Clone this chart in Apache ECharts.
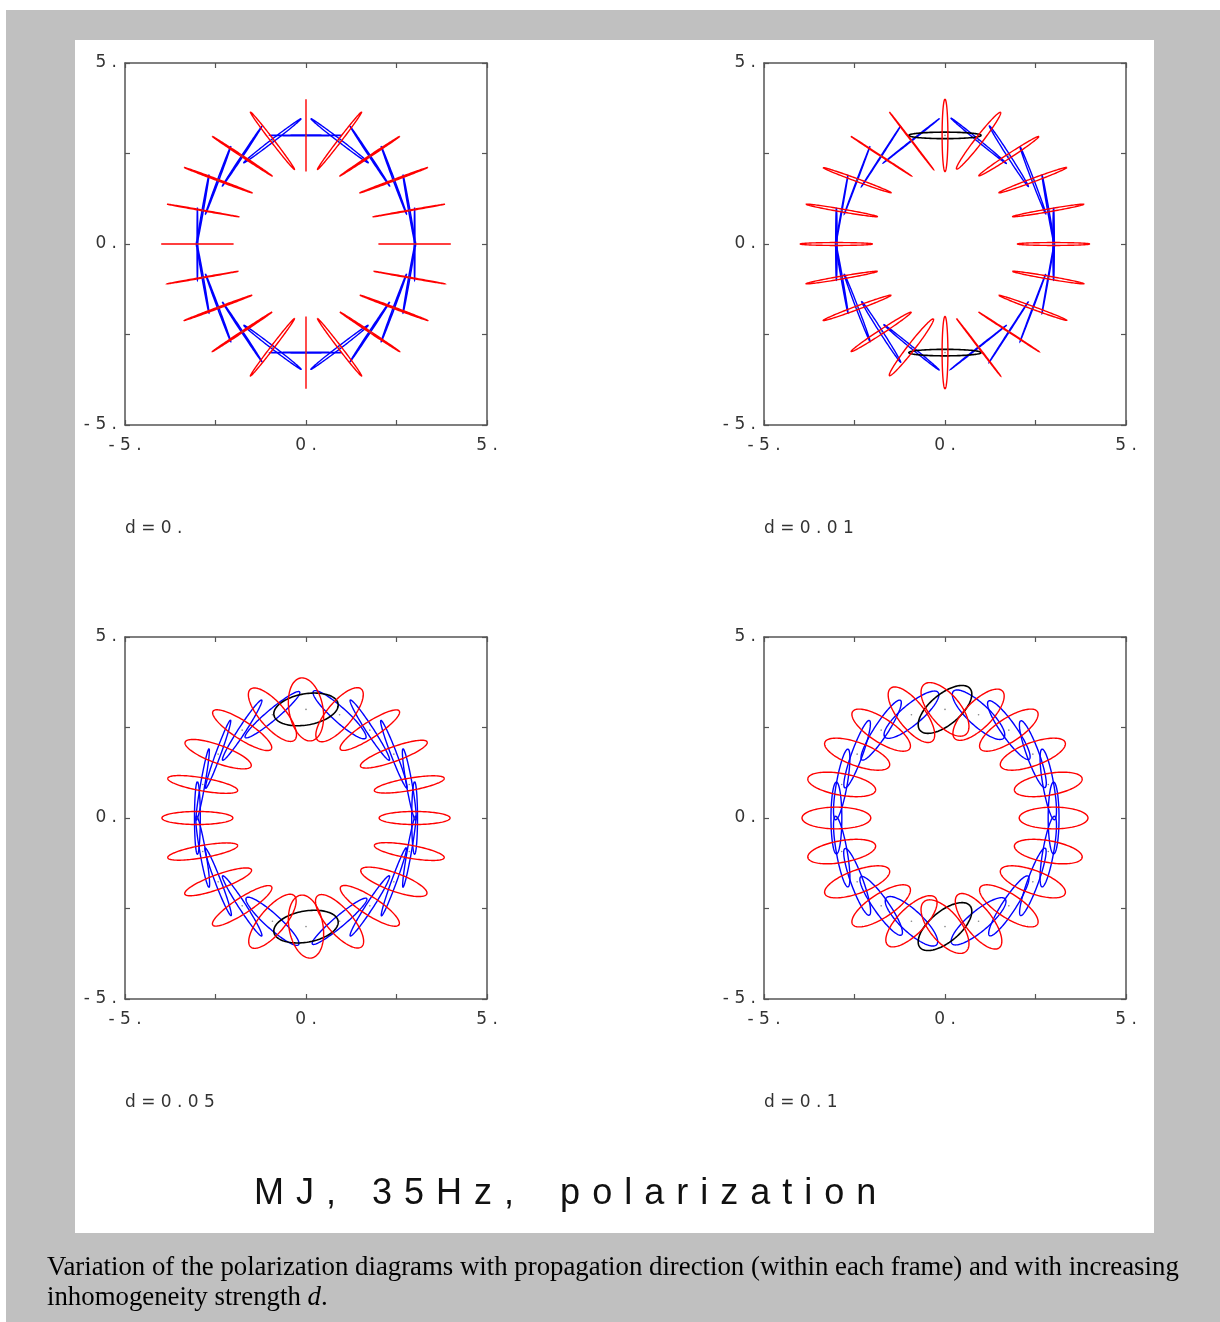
<!DOCTYPE html>
<html>
<head>
<meta charset="utf-8">
<script src="https://cdn.jsdelivr.net/npm/echarts@6/dist/echarts.min.js"></script>
<style>
  html, body { margin: 0; padding: 0; background: #ffffff; }
  #chart { width: 1220px; height: 1322px; }
</style>
</head>
<body>
<div id="chart"></div>
<script>
// Propagation directions in degrees. Each polarization ellipse belongs to a
// direction axis, so it is drawn at both ends of that axis (theta and theta+180).
const directions = [0, 18, 36, 54, 72, 90, 108, 126, 144, 162];

const panelLabels = ['d = 0 .', 'd = 0 . 0 1', 'd = 0 . 0 5', 'd = 0 . 1'];
const tickLabels = { '-5': '- 5 .', '0': '0 .', '5': '5 .' };
const titleText = 'M\u2004J\u2004,\u2004\u2004\u20043\u20045\u2004H\u2004z\u2004,\u2004\u2004\u2004 p\u2004o\u2004l\u2004a\u2004r\u2004i\u2004z\u2004a\u2004t\u2004i\u2004o\u2004n';
const captionLine1 = 'Variation of the polarization diagrams with propagation direction (within each frame) and with increasing';
const captionLine2 = 'inhomogeneity strength {i|d}.';

// Semi-major axis, semi-minor axis and tilt (degrees) of each mode's ellipse.
// d = 0
const d0RedMajor  = [1.00, 1.00, 1.00, 0.99, 1.00, 1.00, 1.00, 0.99, 1.00, 1.00];
const d0RedMinor  = [0.00, 0.01, 0.02, 0.02, 0.045, 0.00, 0.045, 0.02, 0.02, 0.01];
const d0RedTilt   = [0, 10, 20.5, 33.5, 52.5, 90, 127.5, 146.5, 159.5, 170];
const d0BlueMajor = [1.00, 1.00, 1.00, 0.99, 1.00, 0.99, 1.00, 0.99, 1.00, 1.00];
const d0BlueMinor = [0.01, 0.02, 0.02, 0.02, 0.04, 0.01, 0.04, 0.02, 0.02, 0.02];
const d0BlueTilt  = [90, 100, 110.5, 123.5, 142.5, 0, 37.5, 56.5, 69.5, 80];

// d = 0.01
const d1RedMajor  = [1.00, 1.00, 1.00, 0.99, 0.99, 1.00, 1.00, 1.00, 1.00, 1.00];
const d1RedMinor  = [0.04, 0.04, 0.05, 0.06, 0.10, 0.08, 0.01, 0.01, 0.04, 0.04];
const d1RedTilt   = [0, 9.8, 20.4, 33.2, 52.2, 90, 127.5, 146.8, 159.8, 170.2];
const d1BlueMajor = [1.00, 1.00, 1.00, 1.00, 0.99, 1.00, 0.99, 1.00, 1.00, 1.00];
const d1BlueMinor = [0.02, 0.02, 0.03, 0.04, 0.03, 0.09, 0.01, 0.01, 0.01, 0.01];
const d1BlueTilt  = [90, 100, 111, 122.7, 140.7, 0, 38.3, 57.1, 69.2, 80];

// d = 0.05
const d5RedMajor  = [0.98, 0.98, 0.98, 0.97, 0.93, 0.88, 0.93, 0.96, 0.97, 0.98];
const d5RedMinor  = [0.18, 0.17, 0.20, 0.22, 0.35, 0.47, 0.35, 0.25, 0.25, 0.18];
const d5RedTilt   = [0, 10, 20, 33, 50, 100, 131, 147, 160, 170];
const d5BlueMajor = [1.00, 1.00, 1.00, 0.99, 0.97, 0.90, 0.98, 0.99, 1.00, 1.00];
const d5BlueMinor = [0.08, 0.08, 0.08, 0.10, 0.20, 0.43, 0.15, 0.10, 0.07, 0.06];
const d5BlueTilt  = [90, 100, 111, 123, 138, 10, 40, 57, 70, 80];

// d = 0.1
const d10RedMajor  = [0.95, 0.95, 0.95, 0.94, 0.93, 0.90, 0.93, 0.94, 0.95, 0.95];
const d10RedMinor  = [0.30, 0.30, 0.32, 0.33, 0.37, 0.42, 0.37, 0.33, 0.32, 0.30];
const d10RedTilt   = [0, 10, 20, 33, 45, 130, 128, 147, 160, 170];
const d10BlueMajor = [0.99, 0.99, 0.98, 0.98, 0.95, 0.90, 0.96, 0.98, 0.99, 0.99];
const d10BlueMinor = [0.15, 0.15, 0.17, 0.21, 0.30, 0.42, 0.28, 0.19, 0.15, 0.15];
const d10BlueTilt  = [90, 100, 110, 125, 137, 40, 40, 57, 70, 80];

const RING = 3;            // radius of the ring the ellipses are centred on
const RED = '#ff0000', BLUE = '#0000ff', BLACK = '#000000';

const panels = [
  { label: panelLabels[0], red: [d0RedMajor, d0RedMinor, d0RedTilt],   blue: [d0BlueMajor, d0BlueMinor, d0BlueTilt],   axisColor: BLUE,  left: 125, top: 63 },
  { label: panelLabels[1], red: [d1RedMajor, d1RedMinor, d1RedTilt],   blue: [d1BlueMajor, d1BlueMinor, d1BlueTilt],   axisColor: BLACK, left: 764, top: 63 },
  { label: panelLabels[2], red: [d5RedMajor, d5RedMinor, d5RedTilt],   blue: [d5BlueMajor, d5BlueMinor, d5BlueTilt],   axisColor: BLACK, left: 125, top: 637 },
  { label: panelLabels[3], red: [d10RedMajor, d10RedMinor, d10RedTilt], blue: [d10BlueMajor, d10BlueMinor, d10BlueTilt], axisColor: BLACK, left: 764, top: 637 }
];
const SIZE = 362;

function ellipseData(params, pick) {
  const [major, minor, tilt] = params;
  const out = [];
  directions.forEach((deg, i) => {
    if (!pick(deg)) return;
    [0, 180].forEach(side => {
      const r = (deg + side) * Math.PI / 180;
      out.push([RING * Math.cos(r), RING * Math.sin(r), major[i], minor[i], tilt[i]]);
    });
  });
  return out;
}

function centreData() {
  const out = [];
  directions.forEach(deg => {
    [0, 180].forEach(side => {
      const r = (deg + side) * Math.PI / 180;
      out.push([RING * Math.cos(r), RING * Math.sin(r)]);
    });
  });
  return out;
}

function ellipseRenderer(color, width) {
  return function (params, api) {
    const cx = api.value(0), cy = api.value(1);
    const a = api.value(2), b = api.value(3);
    const t = api.value(4) * Math.PI / 180;
    const pts = [];
    const n = 120;
    for (let k = 0; k <= n; k++) {
      const s = k / n * 2 * Math.PI;
      const x = cx + a * Math.cos(s) * Math.cos(t) - b * Math.sin(s) * Math.sin(t);
      const y = cy + a * Math.cos(s) * Math.sin(t) + b * Math.sin(s) * Math.cos(t);
      pts.push(api.coord([x, y]));
    }
    return {
      type: 'polyline',
      shape: { points: pts },
      style: { fill: null, stroke: color, lineWidth: width }
    };
  };
}

const grids = [], xAxes = [], yAxes = [], series = [], graphics = [];
const axisBase = {
  type: 'value', min: -5, max: 5, interval: 2.5,
  splitLine: { show: false },
  axisLine: { onZero: false, lineStyle: { color: '#555555', width: 1.5 } },
  axisTick: { inside: true, length: 5, lineStyle: { color: '#555555', width: 1.2 } }
};
const labelStyle = {
  fontFamily: 'DejaVu Sans', fontSize: 17, color: '#333333',
  formatter: v => tickLabels[String(v)] || ''
};

panels.forEach((p, g) => {
  grids.push({ left: p.left, top: p.top, width: SIZE, height: SIZE, show: false });
  xAxes.push(Object.assign({}, axisBase, { gridIndex: g, position: 'bottom',
    axisLabel: Object.assign({ margin: 12, showMinLabel: true, showMaxLabel: true }, labelStyle) }));
  xAxes.push(Object.assign({}, axisBase, { gridIndex: g, position: 'top', axisLabel: { show: false } }));
  yAxes.push(Object.assign({}, axisBase, { gridIndex: g, position: 'left',
    axisLabel: Object.assign({ margin: 8, showMinLabel: true, showMaxLabel: true }, labelStyle) }));
  yAxes.push(Object.assign({}, axisBase, { gridIndex: g, position: 'right', axisLabel: { show: false } }));

  const xi = 2 * g, yi = 2 * g;
  const separate = p.axisColor !== BLUE;
  series.push({
    type: 'custom', xAxisIndex: xi, yAxisIndex: yi, z: 2,
    renderItem: ellipseRenderer(BLUE, 1.4),
    encode: { x: 0, y: 1 },
    data: ellipseData(p.blue, deg => !(separate && deg === 90)),
    silent: true
  });
  if (separate) {
    series.push({
      type: 'custom', xAxisIndex: xi, yAxisIndex: yi, z: 3,
      renderItem: ellipseRenderer(BLACK, 1.6),
      encode: { x: 0, y: 1 },
      data: ellipseData(p.blue, deg => deg === 90),
      silent: true
    });
  }
  series.push({
    type: 'custom', xAxisIndex: xi, yAxisIndex: yi, z: 4,
    renderItem: ellipseRenderer(RED, 1.4),
    encode: { x: 0, y: 1 },
    data: ellipseData(p.red, () => true),
    silent: true
  });
  series.push({
    type: 'scatter', xAxisIndex: xi, yAxisIndex: yi, z: 5,
    symbolSize: 1.6, itemStyle: { color: '#666666' },
    data: centreData(), silent: true
  });

  graphics.push({
    type: 'text', x: p.left, y: p.top + SIZE + 104, z: 10,
    style: { text: p.label, font: '17px "DejaVu Sans"', fill: '#333333',
             textAlign: 'left', textVerticalAlign: 'middle', align: 'left', verticalAlign: 'middle' }
  });
});

// page backdrop, white figure area, title and caption
graphics.unshift(
  { type: 'rect', z: -20, silent: true, shape: { x: 6, y: 10, width: 1214, height: 1312 }, style: { fill: '#c0c0c0' } },
  { type: 'rect', z: -19, silent: true, shape: { x: 75, y: 40, width: 1079, height: 1193 }, style: { fill: '#ffffff' } }
);
graphics.push(
  { type: 'text', x: 254, y: 1194, z: 10,
    style: { text: titleText, font: '36px "Liberation Sans"', fill: '#111111',
             textAlign: 'left', textVerticalAlign: 'middle', align: 'left', verticalAlign: 'middle' } },
  { type: 'text', x: 47, y: 1268, z: 10,
    style: { text: captionLine1, font: '26.8px "Liberation Serif"', fill: '#000000',
             textAlign: 'left', textVerticalAlign: 'middle', align: 'left', verticalAlign: 'middle' } },
  { type: 'text', x: 47, y: 1298, z: 10,
    style: { text: captionLine2, font: '26.8px "Liberation Serif"', fill: '#000000',
             textAlign: 'left', textVerticalAlign: 'middle', align: 'left', verticalAlign: 'middle',
             rich: { i: { fontStyle: 'italic', fontFamily: 'Liberation Serif', fontSize: 26.8 } } } }
);

const chart = echarts.init(document.getElementById('chart'), null, { renderer: 'canvas' });
chart.setOption({
  animation: false,
  backgroundColor: '#ffffff',
  grid: grids,
  xAxis: xAxes,
  yAxis: yAxes,
  series: series,
  graphic: graphics
});
</script>
</body>
</html>
